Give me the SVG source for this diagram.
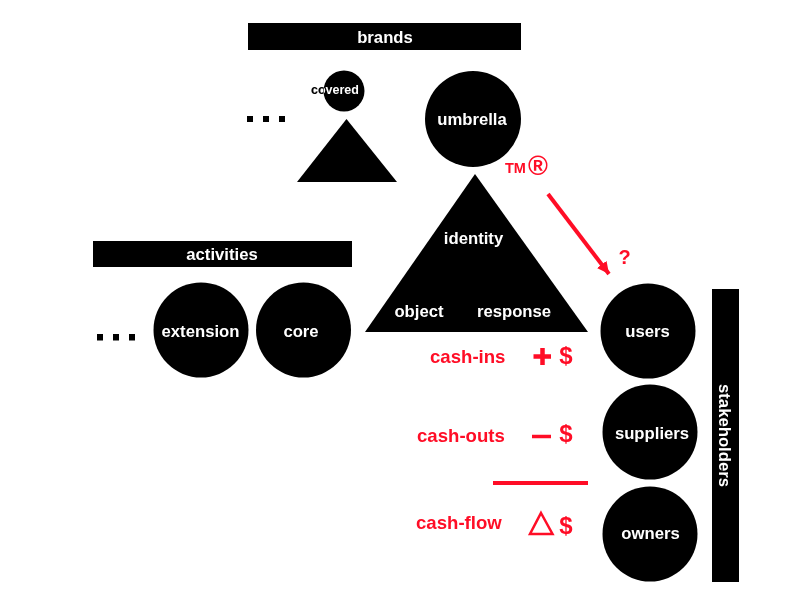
<svg xmlns="http://www.w3.org/2000/svg" width="800" height="608" viewBox="0 0 800 608">
<style>
text{font-family:"Liberation Sans",Arial,sans-serif;font-weight:bold}
.w{fill:#fff;font-size:16.700px;text-anchor:middle}
.r{fill:#ff0d26;font-size:18.600px}
.d{fill:#ff0d26;font-size:24px;text-anchor:middle}
.k{fill:#000}
.ln{stroke:#ff0d26;stroke-width:4;fill:none}
</style>
<defs>
<marker id="ah" markerUnits="userSpaceOnUse" markerWidth="14" markerHeight="14" refX="12" refY="6" orient="auto"><path d="M0 0L12 6L0 12Z" fill="#ff0d26"/></marker>
</defs>
<rect width="800" height="608" fill="#fff"/>
<g id="connectors">
<path class="ln" d="M548 194L609 274" marker-end="url(#ah)"/>
<path class="ln" d="M493 483H588"/>
</g>
<g id="brands"><rect class="k" x="248" y="23" width="273" height="27"/><text class="w" x="385" y="43">brands</text></g>
<g id="brands-more"><rect class="k" x="247" y="116" width="6" height="6"/><rect class="k" x="263" y="116" width="6" height="6"/><rect class="k" x="279" y="116" width="6" height="6"/></g>
<g id="covered"><circle class="k" cx="344" cy="91" r="20.500"/><path class="k" d="M346.500 119L397 182H297Z"/><text x="335" y="94" font-size="12.500" text-anchor="middle" fill="#fff" style="mix-blend-mode:difference">covered</text></g>
<g id="umbrella"><circle class="k" cx="473" cy="119" r="48"/><text class="w" x="472" y="125">umbrella</text></g>
<g id="identity"><path class="k" d="M475 174L588 332H365Z"/><text class="w" x="473.500" y="244">identity</text><text class="w" x="419" y="317">object</text><text class="w" x="514" y="317">response</text></g>
<g id="trademarks"><text class="r" x="505" y="173" style="font-size:14.500px">TM</text><text class="r" x="528" y="175" style="font-size:27px">®</text><text class="r" x="618.500" y="264" style="font-size:20px">?</text></g>
<g id="activities"><rect class="k" x="93" y="241" width="259" height="26"/><text class="w" x="222" y="260">activities</text></g>
<g id="activities-more"><rect class="k" x="97" y="334" width="6" height="6.500"/><rect class="k" x="113" y="334" width="6" height="6.500"/><rect class="k" x="129" y="334" width="6" height="6.500"/></g>
<g id="extension"><circle class="k" cx="201" cy="330" r="47.500"/><text class="w" x="200.500" y="337">extension</text></g>
<g id="core"><circle class="k" cx="303.500" cy="330" r="47.500"/><text class="w" x="301" y="337">core</text></g>
<g id="users"><circle class="k" cx="648" cy="331" r="47.500"/><text class="w" x="647.500" y="337">users</text></g>
<g id="suppliers"><circle class="k" cx="650" cy="432" r="47.500"/><text class="w" x="652" y="439">suppliers</text></g>
<g id="owners"><circle class="k" cx="650" cy="534" r="47.500"/><text class="w" x="650.500" y="539">owners</text></g>
<g id="stakeholders"><rect class="k" x="712" y="289" width="27" height="293"/><text class="w" transform="translate(719 435.500) rotate(90)">stakeholders</text></g>
<g id="cash-ins"><text class="r" x="430" y="363">cash-ins</text><path d="M533.500 356.500H551M542.500 348V365" stroke="#ff0d26" stroke-width="4.500" fill="none"/><text class="d" x="566" y="364">$</text></g>
<g id="cash-outs"><text class="r" x="417" y="442">cash-outs</text><path d="M532 436.500H551" stroke="#ff0d26" stroke-width="3.500" fill="none"/><text class="d" x="566" y="442">$</text></g>
<g id="cash-flow"><text class="r" x="416" y="529">cash-flow</text><path d="M541 513L552.500 534H530Z" stroke="#ff0d26" stroke-width="2.500" fill="none"/><text class="d" x="566" y="534">$</text></g>
</svg>
